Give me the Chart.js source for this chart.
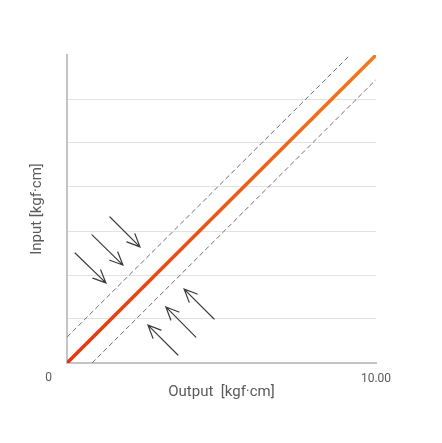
<!DOCTYPE html>
<html>
<head>
<meta charset="utf-8">
<script src="https://cdn.jsdelivr.net/npm/chart.js@4/dist/chart.umd.min.js"></script>
<style>
  html, body { margin: 0; padding: 0; background: #fff; }
  #wrap { width: 442px; height: 443px; }
</style>
</head>
<body>
<div id="wrap"><canvas id="myChart" width="442" height="443"></canvas></div>
<script>
'use strict';

// output / input in kgf·cm
let idealLine = [{x: 0, y: 0}, {x: 10, y: 10}];
let upperLimit = [{x: 0, y: 0.84}, {x: 9.16, y: 10}];
let lowerLimit = [{x: 0.81, y: 0}, {x: 10, y: 9.2}];

// arrows: tail -> tip
let arrowTails = [[0.26, 3.57], [0.81, 4.16], [1.39, 4.74], [3.59, 0.26], [4.17, 0.84], [4.76, 1.43]];
let arrowTips = [[1.26, 2.6], [1.81, 3.18], [2.36, 3.77], [2.62, 1.23], [3.2, 1.82], [3.79, 2.4]];

let yGridValues = [0, 1.4286, 2.8571, 4.2857, 5.7143, 7.1429, 8.5714];
let xTickValues = [10];

const textColor = '#5a5a5a';

const arrowPlugin = {
    id: 'arrows',
    afterDatasetsDraw(chart) {
        let ctx = chart.ctx;
        let xs = chart.scales.x;
        let ys = chart.scales.y;
        ctx.save();
        ctx.strokeStyle = '#3c3c3c';
        ctx.lineWidth = 1.2;
        ctx.lineCap = 'round';
        for (let i = 0; i < arrowTails.length; i++) {
            let x1 = xs.getPixelForValue(arrowTails[i][0]);
            let y1 = ys.getPixelForValue(arrowTails[i][1]);
            let x2 = xs.getPixelForValue(arrowTips[i][0]);
            let y2 = ys.getPixelForValue(arrowTips[i][1]);
            let ang = Math.atan2(y2 - y1, x2 - x1);
            let head = 14;
            let spread = 0.42;
            ctx.beginPath();
            ctx.moveTo(x1, y1);
            ctx.lineTo(x2, y2);
            ctx.moveTo(x2 - head * Math.cos(ang - spread), y2 - head * Math.sin(ang - spread));
            ctx.lineTo(x2, y2);
            ctx.lineTo(x2 - head * Math.cos(ang + spread), y2 - head * Math.sin(ang + spread));
            ctx.stroke();
        }
        ctx.restore();
    }
};

function lineGradient(context) {
    let area = context.chart.chartArea;
    if (!area) {
        return '#ea4a14';
    }
    let g = context.chart.ctx.createLinearGradient(area.left, area.bottom, area.right, area.top);
    g.addColorStop(0, '#e4350f');
    g.addColorStop(1, '#f27a1e');
    return g;
}

var ctx = document.getElementById('myChart').getContext('2d');
var myChart = new Chart(ctx, {
    type: 'line',
    data: {
        datasets: [{
            label: 'upper',
            data: upperLimit,
            borderColor: '#6f6f6f',
            borderWidth: 1,
            borderDash: [5, 3],
            pointRadius: 0,
            fill: false
        },
        {
            label: 'lower',
            data: lowerLimit,
            borderColor: '#6f6f6f',
            borderWidth: 1,
            borderDash: [5, 3],
            pointRadius: 0,
            fill: false
        },
        {
            label: 'ideal',
            data: idealLine,
            borderColor: lineGradient,
            borderWidth: 3.5,
            pointRadius: 0,
            fill: false
        }]
    },
    options: {
        responsive: false,
        animation: false,
        layout: {
            padding: {top: 55, right: 66, left: 0, bottom: 0}
        },
        plugins: {
            legend: {display: false},
            tooltip: {enabled: false}
        },
        scales: {
            x: {
                type: 'linear',
                min: 0,
                max: 10,
                afterBuildTicks: function (scale) {
                    scale.ticks = xTickValues.map(v => ({value: v}));
                },
                afterFit: function (scale) {
                    scale.height = 80;
                },
                grid: {display: false, drawTicks: false},
                border: {display: true, color: '#c4c4c4', width: 2},
                ticks: {
                    padding: 9,
                    color: textColor,
                    font: {family: 'Roboto', size: 12},
                    callback: v => v.toFixed(2)
                },
                title: {
                    display: true,
                    text: 'Output  [kgf·cm]',
                    color: textColor,
                    font: {family: 'Roboto', size: 15},
                    padding: {top: 0, bottom: 42}
                }
            },
            y: {
                type: 'linear',
                min: 0,
                max: 10,
                afterBuildTicks: function (scale) {
                    scale.ticks = yGridValues.map(v => ({value: v}));
                },
                afterFit: function (scale) {
                    scale.width = 67;
                },
                grid: {
                    drawTicks: false,
                    color: c => (c.tick && c.tick.value === 0) ? 'rgba(0,0,0,0)' : '#e2e2e2',
                    lineWidth: 1
                },
                border: {display: true, color: '#c4c4c4', width: 2},
                ticks: {
                    padding: 15,
                    labelOffset: 15,
                    color: textColor,
                    font: {family: 'Roboto', size: 12},
                    callback: v => v === 0 ? '0' : ''
                },
                title: {
                    display: true,
                    text: 'Input [kgf·cm]',
                    color: textColor,
                    font: {family: 'Roboto', size: 15},
                    padding: {top: 28, bottom: 0}
                }
            }
        }
    },
    plugins: [arrowPlugin]
});
</script>
</body>
</html>
